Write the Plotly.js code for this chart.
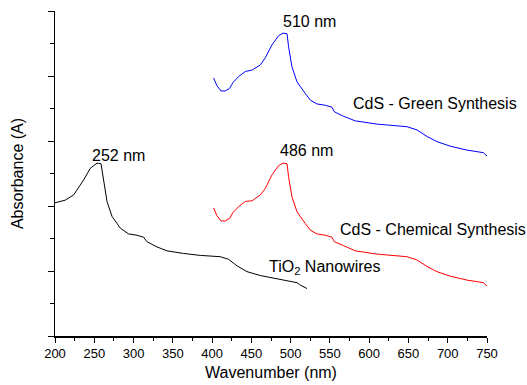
<!DOCTYPE html>
<html>
<head>
<meta charset="utf-8">
<script src="https://cdn.plot.ly/plotly-3.0.1.min.js"></script>
<style>
  html, body { margin: 0; padding: 0; background: #fff; }
  #chart { width: 527px; height: 385px; }
</style>
</head>
<body>
<div id="chart"></div>
<script>
// TiO2 nanowires (black)
const tioX = [200, 213.1, 223.7, 236.4, 244.9, 253.5, 258.6, 261.9, 266.2, 272.6, 283.1, 293.7, 304.4, 312.8, 317.1, 329.9, 342.6, 363.7, 385, 410.4, 421, 431.7, 444.4, 461.4, 478.3, 508.1, 511.4, 520.8];
const tioY = [2.05, 2.09, 2.17, 2.40, 2.58, 2.66, 2.65, 2.40, 2.07, 1.84, 1.66, 1.57, 1.55, 1.52, 1.45, 1.37, 1.31, 1.27, 1.24, 1.22, 1.18, 1.08, 0.99, 0.93, 0.89, 0.82, 0.79, 0.73];

// CdS chemical synthesis (red)
const chemX = [401.9, 406.2, 411.3, 416.8, 422.3, 426.6, 433.7, 442.3, 450.8, 461.4, 467.7, 476.3, 484.7, 490.3, 495.4, 497.4, 501.7, 508.1, 518.7, 525, 533.5, 544.1, 552.6, 555.6, 567.4, 582.3, 609.9, 648.1, 660.9, 673.6, 686.3, 703.3, 724.5, 745.6, 747.8, 750];
const chemY = [1.97, 1.85, 1.77, 1.77, 1.81, 1.90, 1.99, 2.07, 2.08, 2.17, 2.27, 2.48, 2.62, 2.66, 2.65, 2.45, 2.14, 1.91, 1.73, 1.63, 1.57, 1.55, 1.52, 1.45, 1.39, 1.31, 1.26, 1.22, 1.17, 1.07, 0.99, 0.92, 0.86, 0.82, 0.79, 0.77];

// CdS green synthesis (blue)
const greenX = [401.9, 406.2, 411.3, 416.8, 422.3, 426.6, 433.7, 442.3, 450.8, 461.4, 467.7, 476.3, 484.7, 490.3, 495.4, 497.4, 501.7, 508.1, 518.7, 525, 533.5, 544.1, 552.6, 555.6, 567.4, 582.3, 609.9, 648.1, 660.9, 673.6, 686.3, 703.3, 724.5, 745.6, 747.8, 750];
const greenY = [3.97, 3.85, 3.77, 3.77, 3.81, 3.90, 3.99, 4.07, 4.09, 4.17, 4.28, 4.48, 4.62, 4.66, 4.65, 4.45, 4.14, 3.91, 3.73, 3.63, 3.57, 3.55, 3.52, 3.45, 3.38, 3.31, 3.26, 3.22, 3.17, 3.07, 2.99, 2.92, 2.86, 2.82, 2.79, 2.77];

const xTickVals = [200, 250, 300, 350, 400, 450, 500, 550, 600, 650, 700, 750];
const xTickText = ['200', '250', '300', '350', '400', '450', '500', '550', '600', '650', '700', '750'];

const labels = [
  {text: '252 nm', x: 280.6, y: 2.77, xanchor: 'center'},
  {text: '486 nm', x: 519.9, y: 2.85, xanchor: 'center'},
  {text: '510 nm', x: 524.6, y: 4.84, xanchor: 'center'},
  {text: 'CdS - Green Synthesis', x: 683.8, y: 3.58, xanchor: 'center'},
  {text: 'CdS - Chemical Synthesis', x: 681.6, y: 1.64, xanchor: 'center'},
  {text: 'TiO<sub>2</sub> Nanowires', x: 470.3, y: 1.06, xanchor: 'left'}
];

const font = 'Liberation Sans, Arial, sans-serif';

const traces = [
  {x: tioX, y: tioY, mode: 'lines', line: {color: '#000000', width: 1}, hoverinfo: 'skip'},
  {x: chemX, y: chemY, mode: 'lines', line: {color: '#ff0000', width: 1}, hoverinfo: 'skip'},
  {x: greenX, y: greenY, mode: 'lines', line: {color: '#0000ff', width: 1}, hoverinfo: 'skip'}
];

const layout = {
  width: 527, height: 385,
  margin: {l: 55, r: 40, t: 11, b: 49},
  paper_bgcolor: '#ffffff', plot_bgcolor: '#ffffff',
  showlegend: false,
  font: {family: font, color: '#000000', size: 13},
  xaxis: {
    range: [200, 750], showgrid: false, zeroline: false,
    showline: true, linecolor: '#000', linewidth: 1.5,
    ticks: 'outside', ticklen: 5, tickwidth: 1, tickcolor: '#000',
    tickmode: 'array', tickvals: xTickVals, ticktext: xTickText,
    tickfont: {size: 13, family: font},
    minor: {dtick: 25, ticks: 'outside', ticklen: 3, tickwidth: 1, tickcolor: '#000', showgrid: false},
    title: {text: 'Wavenumber (nm)', font: {size: 16, family: font}, standoff: 6}
  },
  yaxis: {
    range: [0, 5], showgrid: false, zeroline: false,
    showline: true, linecolor: '#000', linewidth: 1.5,
    ticks: 'outside', ticklen: 6, tickwidth: 1, tickcolor: '#000',
    dtick: 1, showticklabels: false,
    minor: {dtick: 0.5, ticks: 'outside', ticklen: 4, tickwidth: 1, tickcolor: '#000', showgrid: false},
    title: {text: 'Absorbance (A)', font: {size: 16, family: font}, standoff: 20}
  },
  annotations: labels.map(l => ({
    text: l.text, x: l.x, y: l.y, xref: 'x', yref: 'y',
    xanchor: l.xanchor, yanchor: 'middle', showarrow: false,
    font: {size: 16, family: font, color: '#000'}
  }))
};

Plotly.newPlot('chart', traces, layout, {displayModeBar: false, staticPlot: true});
</script>
</body>
</html>
